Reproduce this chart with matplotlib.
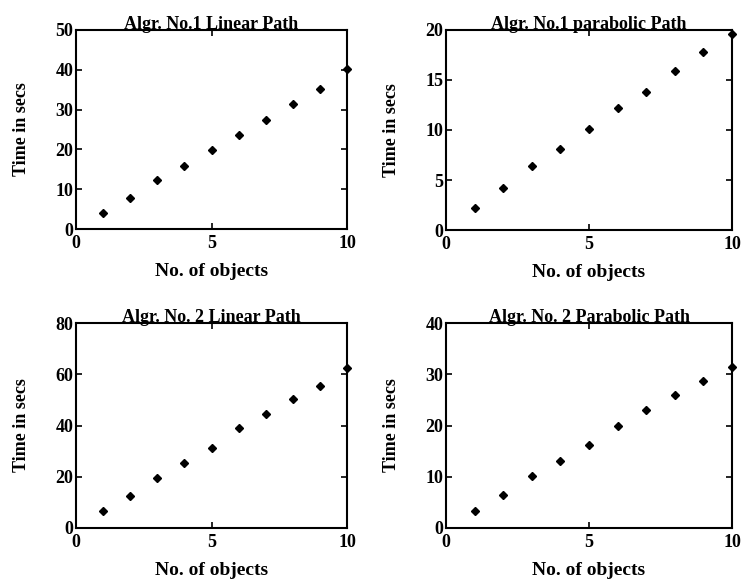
import numpy as np
import matplotlib
matplotlib.use("Agg")
import matplotlib.pyplot as plt

plt.rcParams['font.family'] = ['Liberation Serif', 'DejaVu Serif']
plt.rcParams['font.weight'] = 'bold'

n_objects = [1, 2, 3, 4, 5, 6, 7, 8, 9, 10]
alg1_linear = [4.1, 7.9, 12.4, 15.9, 19.8, 23.7, 27.3, 31.3, 35.2, 40.2]
alg1_parabolic = [2.2, 4.2, 6.4, 8.1, 10.1, 12.2, 13.8, 15.9, 17.8, 19.6]
alg2_linear = [6.5, 12.4, 19.6, 25.2, 31.4, 39.1, 44.6, 50.5, 55.6, 62.4]
alg2_parabolic = [3.3, 6.4, 10.1, 13.1, 16.1, 19.9, 23.1, 26.0, 28.7, 31.5]

titles = ["Algr. No.1 Linear Path", "Algr. No.1 parabolic Path",
          "Algr. No. 2 Linear Path", "Algr. No. 2 Parabolic Path"]
series = [alg1_linear, alg1_parabolic, alg2_linear, alg2_parabolic]
ylims = [50, 20, 80, 40]
ysteps = [10, 5, 20, 10]

W, H = 742, 587
fig = plt.figure(figsize=(W / 100, H / 100), dpi=100)
# axes boxes in pixels: left, top, right, bottom
boxes = [(76, 30, 347, 229), (446, 30, 732, 230),
         (76, 323, 347, 528), (446, 323, 732, 528)]

for box, title, ys, ymax, step in zip(boxes, titles, series, ylims, ysteps):
    l, t, r, b = box
    ax = fig.add_axes([l / W, 1 - b / H, (r - l) / W, (b - t) / H])
    ax.plot(n_objects, ys, linestyle='none', marker='D', markersize=4,
            color='black', clip_on=False)
    ax.set_xlim(0, 10)
    ax.set_ylim(0, ymax)
    ax.set_xticks([0, 5, 10])
    ax.set_yticks(np.arange(0, ymax + 1, step))
    ax.tick_params(direction='in', top=True, right=True, length=4,
                   labelsize=13, width=1.2)
    ax.tick_params(axis='y', pad=2)
    ax.tick_params(axis='x', pad=4)
    for s in ax.spines.values():
        s.set_linewidth(1.5)
    ax.set_title(title, fontsize=13, fontweight='bold', pad=1)
    ax.set_xlabel("No. of objects", fontsize=14, fontweight='bold', labelpad=8)
    ax.set_ylabel("Time in secs", fontsize=13, fontweight='bold', labelpad=18)

fig.savefig("out.png", dpi=100)
